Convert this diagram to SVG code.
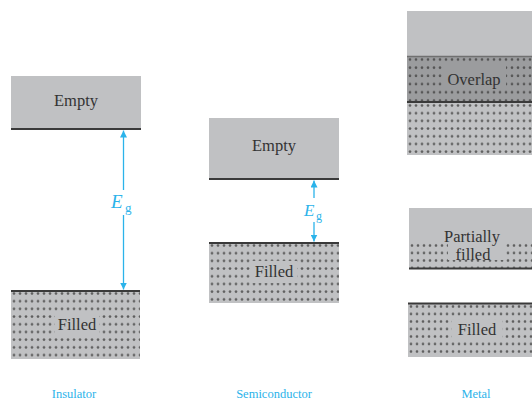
<svg xmlns="http://www.w3.org/2000/svg" width="532" height="400" viewBox="0 0 532 400">
  <style>
    .band { fill: #c0c1c3; }
    .overlap { fill: #9b9c9e; }
    .edge { stroke: #3a3a3a; stroke-width: 2; fill: none; }
    .edge-soft { stroke: #707070; stroke-width: 1.5; fill: none; }
    .lbl { font-family: "Liberation Serif", "Times New Roman", serif; font-size: 16.5px; fill: #333; text-anchor: middle; }
    .cap { font-family: "Liberation Serif", "Times New Roman", serif; font-size: 12.5px; fill: #2bb3ea; text-anchor: middle; }
    .eg { font-family: "Liberation Serif", "Times New Roman", serif; fill: #2bb3ea; }
    .gap { stroke: #2bb3ea; stroke-width: 1.3; fill: none; }
  </style>
  <defs>
    <pattern id="dots" patternUnits="userSpaceOnUse" width="6" height="7.7">
      <circle cx="3" cy="2.5" r="1.35" fill="#5e5e5e"/>
    </pattern>
    <pattern id="dotsTight" patternUnits="userSpaceOnUse" width="6" height="7.5">
      <circle cx="3" cy="2.5" r="1.35" fill="#5e5e5e"/>
    </pattern>
    <pattern id="dotsDark" patternUnits="userSpaceOnUse" width="6" height="8.2">
      <circle cx="3" cy="2.5" r="1.35" fill="#555"/>
    </pattern>
    <marker id="tip" viewBox="0 0 10 10" refX="10" refY="5" markerWidth="7" markerHeight="7" markerUnits="userSpaceOnUse" orient="auto">
      <path d="M0,0 L10,5 L0,10 z" fill="#2bb3ea"/>
    </marker>
  </defs>

  <!-- Insulator -->
  <g id="insulator-conduction">
    <rect class="band" x="11" y="76" width="130" height="53"/>
    <line class="edge" x1="11" y1="129" x2="141" y2="129"/>
    <text class="lbl" x="76" y="106">Empty</text>
  </g>
  <g id="insulator-valence">
    <rect class="band" x="11" y="291" width="129" height="68"/>
    <g transform="translate(11,291)">
      <rect x="0" y="0" width="129" height="68" fill="url(#dots)"/>
    </g>
    <rect class="band" x="55" y="313" width="44" height="22"/>
    <line class="edge" x1="11" y1="291" x2="140" y2="291"/>
    <text class="lbl" x="77" y="330">Filled</text>
  </g>
  <g id="insulator-gap">
    <text class="eg" x="111" y="208" font-size="19" font-style="italic">E</text>
    <text class="eg" x="125" y="212" font-size="13">g</text>
  </g>

  <!-- Semiconductor -->
  <g id="semiconductor-conduction">
    <rect class="band" x="209" y="118" width="130" height="61"/>
    <line class="edge" x1="209" y1="179" x2="339" y2="179"/>
    <text class="lbl" x="274" y="151">Empty</text>
  </g>
  <g id="semiconductor-valence">
    <rect class="band" x="209" y="243" width="130" height="60"/>
    <g transform="translate(209,243)">
      <rect x="0" y="0" width="130" height="60" fill="url(#dots)"/>
    </g>
    <rect class="band" x="251" y="261" width="46" height="22"/>
    <line class="edge" x1="209" y1="243" x2="339" y2="243"/>
    <text class="lbl" x="274" y="277">Filled</text>
  </g>
  <g id="semiconductor-gap">
    <text class="eg" x="304" y="216" font-size="17" font-style="italic">E</text>
    <text class="eg" x="316" y="220" font-size="12">g</text>
  </g>

  <!-- Metal -->
  <g id="metal-upper">
    <rect class="band" x="407" y="11" width="125" height="144"/>
    <rect class="overlap" x="407" y="57" width="125" height="45"/>
    <g transform="translate(407,57)">
      <rect x="0" y="0" width="125" height="45" fill="url(#dotsDark)"/>
    </g>
    <rect class="overlap" x="442" y="66" width="64" height="24"/>
    <g transform="translate(407,103)">
      <rect x="0" y="0" width="125" height="52" fill="url(#dots)"/>
    </g>
    <line class="edge-soft" x1="407" y1="56.5" x2="532" y2="56.5"/>
    <line class="edge" x1="407" y1="102" x2="532" y2="102"/>
    <text class="lbl" x="474" y="85">Overlap</text>
  </g>
  <g id="metal-partial">
    <rect class="band" x="409" y="208" width="123" height="60"/>
    <g transform="translate(409,243)">
      <rect x="0" y="0" width="123" height="25" fill="url(#dotsTight)"/>
    </g>
    <rect class="band" x="448" y="243" width="56" height="17"/>
    <line class="edge" x1="409" y1="268.5" x2="532" y2="268.5"/>
    <text class="lbl" x="472" y="242">Partially</text>
    <text class="lbl" x="473" y="260">filled</text>
  </g>
  <g id="metal-filled">
    <rect class="band" x="408" y="304" width="124" height="53"/>
    <g transform="translate(408,304)">
      <rect x="0" y="0" width="124" height="53" fill="url(#dotsTight)"/>
    </g>
    <rect class="band" x="452" y="320" width="50" height="22"/>
    <line class="edge" x1="408" y1="303.5" x2="532" y2="303.5"/>
    <text class="lbl" x="477" y="335">Filled</text>
  </g>

  <!-- Band-gap arrows -->
  <g id="connectors">
    <line class="gap" x1="123.5" y1="190" x2="123.5" y2="130.5" marker-end="url(#tip)"/>
    <line class="gap" x1="123.5" y1="215" x2="123.5" y2="289.5" marker-end="url(#tip)"/>
    <line class="gap" x1="314" y1="198" x2="314" y2="180.5" marker-end="url(#tip)"/>
    <line class="gap" x1="314" y1="222" x2="314" y2="241.5" marker-end="url(#tip)"/>
  </g>

  <!-- Captions -->
  <g id="captions">
    <text class="cap" x="74" y="398">Insulator</text>
    <text class="cap" x="274" y="398">Semiconductor</text>
    <text class="cap" x="476" y="398">Metal</text>
  </g>
</svg>
